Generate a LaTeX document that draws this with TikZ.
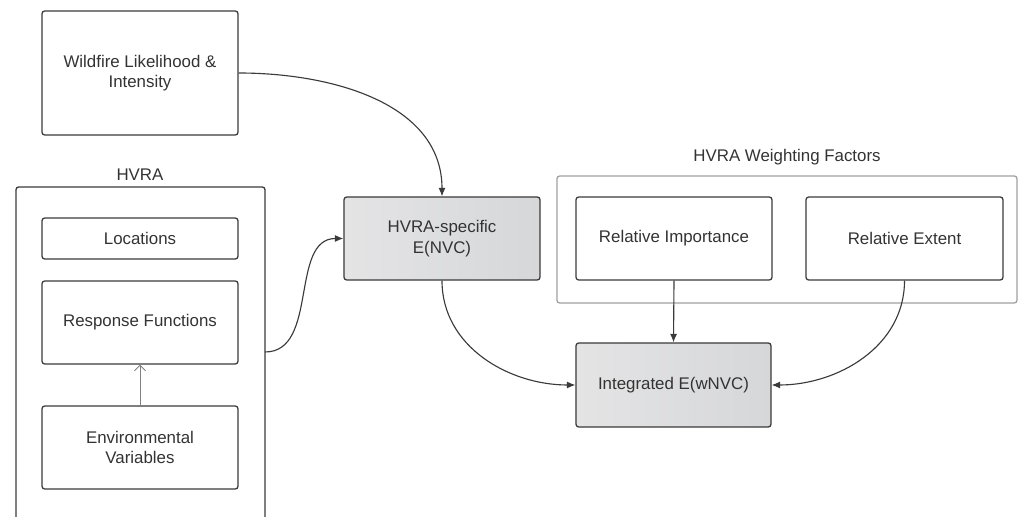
\documentclass[tikz,border=0pt]{standalone}
\usepackage{fontspec}
\setmainfont{Liberation Sans}
\usetikzlibrary{arrows.meta}
\definecolor{linegray}{HTML}{3A3A3A}
\definecolor{textgray}{HTML}{333333}
\definecolor{framegray}{HTML}{A0A0A0}
\definecolor{shadehi}{HTML}{E4E4E5}
\definecolor{shadelo}{HTML}{D6D7D9}

\begin{document}
\begin{tikzpicture}[x=0.025cm, y=-0.025cm,
    box/.style={draw=linegray, line width=0.9pt, rounded corners=2pt, text=textgray,
      align=center, inner sep=0pt, font=\fontsize{12}{14.5}\selectfont},
    gbox/.style={box, left color=shadehi, right color=shadelo},
    title/.style={text=textgray, font=\fontsize{12}{14.5}\selectfont},
    link/.style={draw=linegray, line width=0.8pt, -{Latex[length=6pt,width=5pt]}},
    thin link/.style={draw=gray, line width=0.6pt, -{Straight Barb[length=4pt,width=8pt]}}]
    \clip (0,0) rectangle (1019,517);
    % input boxes
    \node[box, minimum width=4.9cm, minimum height=3.1cm] (fire) at (140,73) {Wildfire Likelihood \&\\Intensity};
    \node[title] (hvralbl) at (140,175) {HVRA};
    \node[box, minimum width=6.225cm, minimum height=8.75cm] (hvra) at (140.5,362) {};
    \node[box, minimum width=4.9cm, minimum height=1.025cm] (loc) at (140,238.5) {Locations};
    \node[box, minimum width=4.9cm, minimum height=2.075cm] (resp) at (140,322.5) {Response Functions};
    \node[box, minimum width=4.9cm, minimum height=2.075cm] (env) at (140,447.5) {Environmental\\Variables};
    \coordinate (hvraout) at (265,352);
    % weighting factors
    \node[title] (wflbl) at (787,157) {HVRA Weighting Factors};
    \node[box, draw=framegray, minimum width=11.5cm, minimum height=3.175cm] (wf) at (787,239.5) {};
    \node[box, minimum width=4.9cm, minimum height=2.075cm] (imp) at (674,238.5) {Relative Importance};
    \node[box, minimum width=4.925cm, minimum height=2.075cm] (ext) at (904.5,238.5) {Relative Extent};
    % outputs
    \node[gbox, minimum width=4.9cm, minimum height=2.075cm] (spec) at (442,238.5) {HVRA-specific\\E(NVC)};
    \node[gbox, minimum width=4.875cm, minimum height=2.1cm] (integ) at (673.5,385) {Integrated E(wNVC)};
    % connectors
    \draw[thin link] (env.north) -- (resp.south);
    \draw[link] (fire.east) to[out=0, in=90] (spec.north);
    \draw[link] (hvraout) to[out=0, in=180] (spec.west);
    \draw[link] (spec.south) to[out=-90, in=180] (integ.west);
    \draw[link] (imp.south) -- (integ.north);
    \draw[link] (ext.south) to[out=-90, in=0] (integ.east);
  \end{tikzpicture}
\end{document}
